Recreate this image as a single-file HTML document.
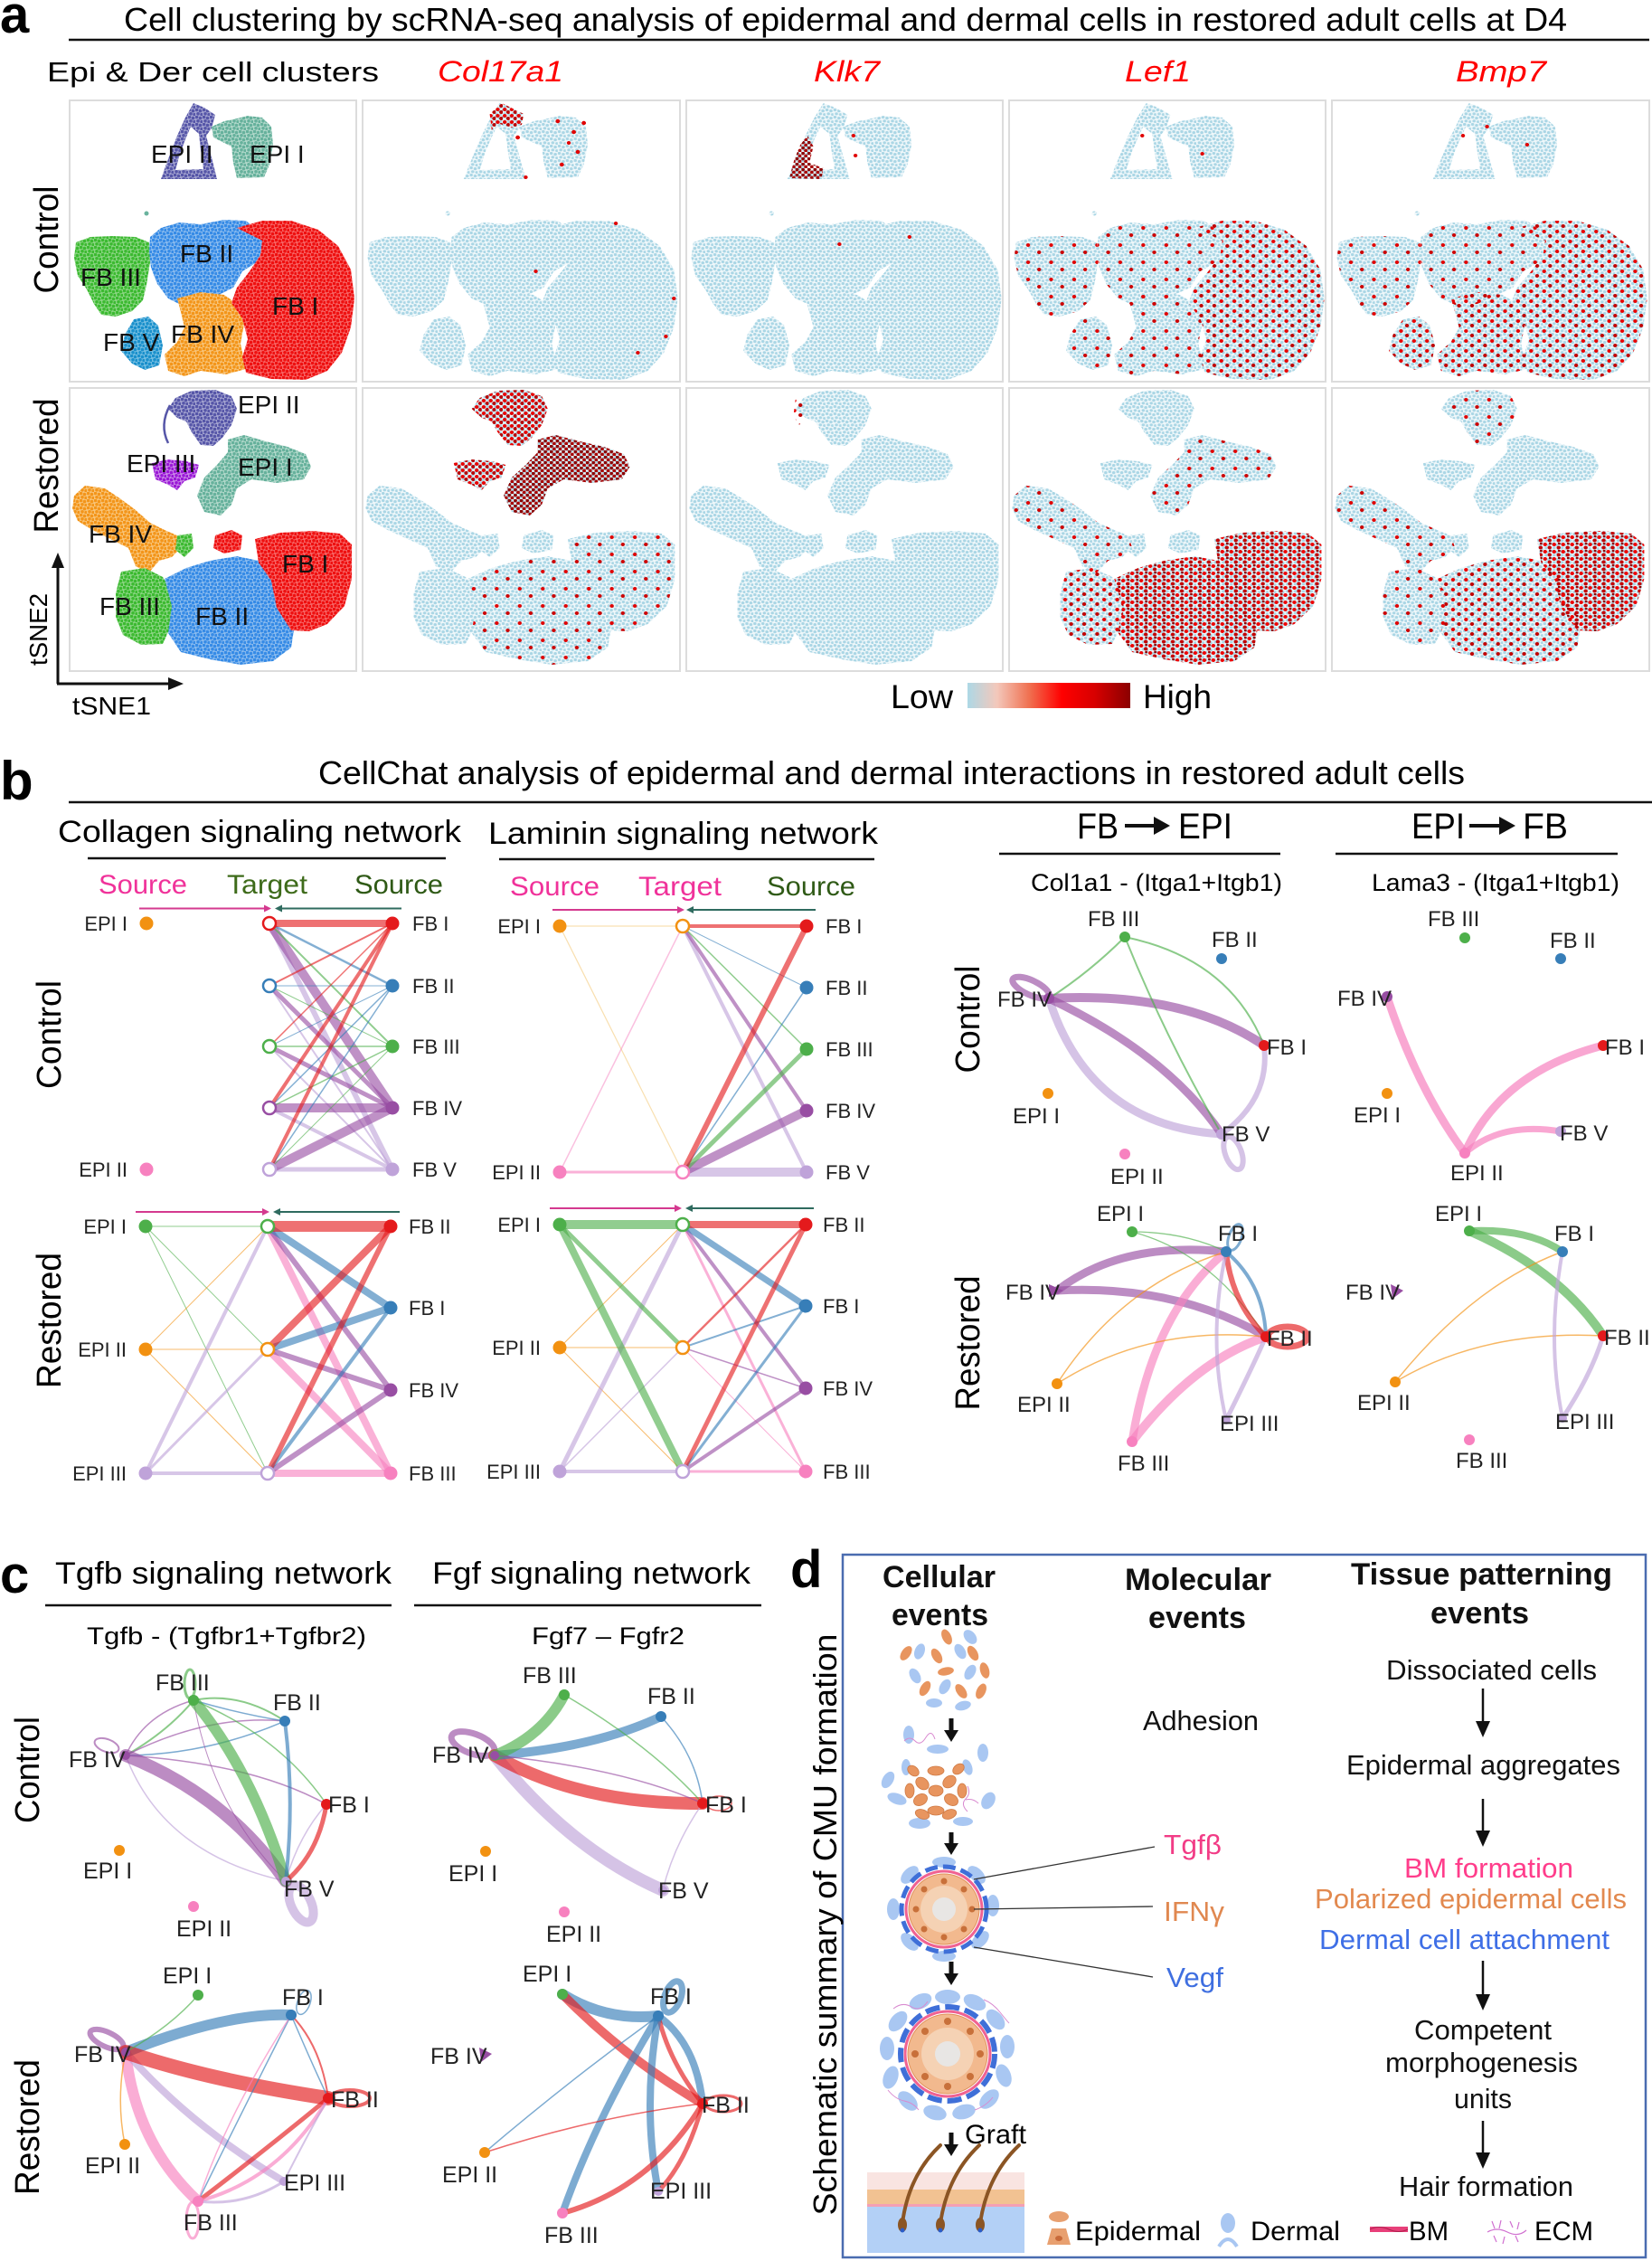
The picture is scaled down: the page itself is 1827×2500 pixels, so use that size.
<!DOCTYPE html>
<html><head><meta charset="utf-8"><title>Figure</title>
<style>
html,body{margin:0;padding:0;background:#fff;}
svg{display:block;font-family:"Liberation Sans",Arial,sans-serif;}
</style></head><body>
<svg xmlns="http://www.w3.org/2000/svg" width="1827" height="2500" viewBox="0 0 1827 2500">
<defs>
<pattern id="pL" width="8" height="8" patternUnits="userSpaceOnUse"><rect width="8" height="8" fill="#eef7fa"/><g fill="#aad6e5"><circle cx="1.5" cy="1.5" r="1.6"/><circle cx="5.5" cy="2.6" r="1.6"/><circle cx="3" cy="5.8" r="1.6"/><circle cx="7" cy="6.6" r="1.5"/></g></pattern>
<pattern id="pR" width="8" height="8" patternUnits="userSpaceOnUse"><rect width="8" height="8" fill="#f76464"/><g fill="#ee1010"><circle cx="1.5" cy="1.5" r="1.8"/><circle cx="5.5" cy="2.6" r="1.8"/><circle cx="3" cy="5.8" r="1.8"/><circle cx="7" cy="6.6" r="1.7"/></g></pattern>
<pattern id="pB" width="8" height="8" patternUnits="userSpaceOnUse"><rect width="8" height="8" fill="#8abbef"/><g fill="#368be6"><circle cx="1.5" cy="1.5" r="1.8"/><circle cx="5.5" cy="2.6" r="1.8"/><circle cx="3" cy="5.8" r="1.8"/><circle cx="7" cy="6.6" r="1.7"/></g></pattern>
<pattern id="pG" width="8" height="8" patternUnits="userSpaceOnUse"><rect width="8" height="8" fill="#8ad582"/><g fill="#3cba31"><circle cx="1.5" cy="1.5" r="1.8"/><circle cx="5.5" cy="2.6" r="1.8"/><circle cx="3" cy="5.8" r="1.8"/><circle cx="7" cy="6.6" r="1.7"/></g></pattern>
<pattern id="pO" width="8" height="8" patternUnits="userSpaceOnUse"><rect width="8" height="8" fill="#f8c478"/><g fill="#f3951a"><circle cx="1.5" cy="1.5" r="1.8"/><circle cx="5.5" cy="2.6" r="1.8"/><circle cx="3" cy="5.8" r="1.8"/><circle cx="7" cy="6.6" r="1.7"/></g></pattern>
<pattern id="pC" width="8" height="8" patternUnits="userSpaceOnUse"><rect width="8" height="8" fill="#74bee2"/><g fill="#1a90cc"><circle cx="1.5" cy="1.5" r="1.8"/><circle cx="5.5" cy="2.6" r="1.8"/><circle cx="3" cy="5.8" r="1.8"/><circle cx="7" cy="6.6" r="1.7"/></g></pattern>
<pattern id="pP" width="8" height="8" patternUnits="userSpaceOnUse"><rect width="8" height="8" fill="#a3a3d0"/><g fill="#5656a8"><circle cx="1.5" cy="1.5" r="1.8"/><circle cx="5.5" cy="2.6" r="1.8"/><circle cx="3" cy="5.8" r="1.8"/><circle cx="7" cy="6.6" r="1.7"/></g></pattern>
<pattern id="pT" width="8" height="8" patternUnits="userSpaceOnUse"><rect width="8" height="8" fill="#b0d8ca"/><g fill="#66b19c"><circle cx="1.5" cy="1.5" r="1.8"/><circle cx="5.5" cy="2.6" r="1.8"/><circle cx="3" cy="5.8" r="1.8"/><circle cx="7" cy="6.6" r="1.7"/></g></pattern>
<pattern id="pV" width="8" height="8" patternUnits="userSpaceOnUse"><rect width="8" height="8" fill="#c987e8"/><g fill="#9a18d6"><circle cx="1.5" cy="1.5" r="1.8"/><circle cx="5.5" cy="2.6" r="1.8"/><circle cx="3" cy="5.8" r="1.8"/><circle cx="7" cy="6.6" r="1.7"/></g></pattern>
<pattern id="pRs" width="23" height="19" patternUnits="userSpaceOnUse"><circle cx="4" cy="5" r="2" fill="#e00000"/><circle cx="15" cy="13" r="2" fill="#cc0000"/></pattern>
<pattern id="pRm" width="13" height="11" patternUnits="userSpaceOnUse"><circle cx="3" cy="3" r="2" fill="#e80000"/><circle cx="9" cy="8" r="2" fill="#c00000"/></pattern>
<pattern id="pRd" width="7" height="7" patternUnits="userSpaceOnUse"><circle cx="2" cy="2" r="2" fill="#e80000"/><circle cx="5.5" cy="5" r="2" fill="#b80000"/></pattern>
<pattern id="pRe" width="9" height="8" patternUnits="userSpaceOnUse"><circle cx="2" cy="2" r="2" fill="#ee0000"/><circle cx="6.5" cy="5.5" r="2" fill="#c40000"/><circle cx="7" cy="1" r="1.3" fill="#8b0000"/></pattern>
<pattern id="pDk" width="6" height="6" patternUnits="userSpaceOnUse"><circle cx="1.5" cy="1.5" r="1.9" fill="#8b0000"/><circle cx="4.5" cy="4.5" r="1.9" fill="#a80000"/></pattern>
<linearGradient id="cb" x1="0" x2="1" y1="0" y2="0"><stop offset="0" stop-color="#add8e6"/><stop offset="0.18" stop-color="#f3c8bb"/><stop offset="0.38" stop-color="#f07050"/><stop offset="0.58" stop-color="#ff0000"/><stop offset="0.78" stop-color="#d80000"/><stop offset="1" stop-color="#8b0000"/></linearGradient>

<path id="c_epi2" fill-rule="evenodd" d="M214,114 L226,119 L238,127 L234,142 L228,150 L232,166 L236,182 L240,198 L178,198 L183,184 L189,168 L196,150 L205,130 Z M211,140 L220,148 L222,166 L225,187 L194,188 L199,170 L205,154 Z"/>
<path id="c_epi1" d="M234,140 L248,134 L262,131 L274,128 L290,130 L300,140 L302,160 L298,182 L292,196 L262,197 L258,180 L256,162 L246,157 L236,152 Z"/>
<path id="c_fb3" d="M84,268 L100,262 L125,261 L150,262 L165,268 L166,290 L162,315 L158,332 L146,344 L128,350 L112,348 L104,336 L96,320 L86,305 L82,285 Z"/>
<path id="c_fb2" d="M166,262 L178,252 L198,246 L222,248 L248,243 L272,244 L286,256 L292,272 L284,290 L268,300 L258,318 L242,326 L222,336 L200,337 L186,330 L174,314 L167,296 L165,278 Z"/>
<path id="c_fb1" d="M262,252 L290,244 L322,244 L352,254 L374,272 L388,298 L392,330 L388,362 L378,390 L362,410 L338,420 L300,419 L272,412 L268,395 L274,375 L268,352 L256,335 L262,318 L276,300 L288,282 L290,266 Z"/>
<path id="c_fb4" d="M196,330 L222,323 L248,326 L262,336 L270,358 L266,380 L272,408 L250,414 L222,410 L204,416 L186,410 L182,392 L196,378 L204,362 L200,345 Z"/>
<path id="c_fb5" d="M148,353 L164,350 L175,360 L180,382 L176,404 L160,409 L146,402 L134,388 L138,370 Z"/>
<g id="ctrlAll"><use href="#c_fb3"/><use href="#c_fb2"/><use href="#c_fb1"/><use href="#c_fb4"/><use href="#c_fb5"/><use href="#c_epi2"/><use href="#c_epi1"/><circle cx="162" cy="236" r="2.5"/></g>

<path id="r_epi2" d="M194,440 L212,432 L238,431 L256,438 L262,452 L256,470 L246,484 L236,493 L222,492 L212,478 L206,466 L196,462 L186,452 Z"/>
<path id="r_epi1" d="M252,486 L270,481 L294,488 L318,494 L338,502 L344,516 L336,530 L306,534 L278,530 L262,540 L256,558 L244,570 L226,566 L218,548 L226,528 L240,514 L252,500 Z"/>
<path id="r_epi3" d="M168,512 L186,508 L206,510 L220,514 L216,528 L204,532 L196,542 L186,536 L172,530 Z"/>
<path id="r_fb4" d="M82,548 L94,537 L116,540 L134,552 L150,564 L166,578 L182,586 L196,592 L200,606 L190,616 L176,620 L164,634 L150,626 L142,606 L122,596 L102,586 L86,576 L80,562 Z"/>
<path id="r_fb3" d="M134,632 L160,628 L180,638 L192,658 L190,690 L180,712 L156,713 L136,702 L128,682 L128,656 Z"/>
<path id="r_fb2" d="M182,640 L206,628 L232,620 L262,615 L286,620 L302,636 L312,660 L326,690 L322,716 L302,731 L266,735 L232,729 L200,721 L186,700 L190,670 Z"/>
<path id="r_fb1" d="M282,596 L310,589 L346,587 L376,590 L389,602 L389,640 L381,670 L362,690 L342,698 L322,697 L306,672 L300,642 L286,622 Z"/>
<path id="r_fb1b" d="M238,592 L256,586 L268,592 L266,608 L248,612 L236,606 Z"/>
<path id="r_g" d="M196,592 L212,590 L214,606 L204,616 L194,608 Z"/>
<g id="restAll"><use href="#r_epi2"/><use href="#r_epi1"/><use href="#r_epi3"/><use href="#r_fb4"/><use href="#r_fb3"/><use href="#r_fb2"/><use href="#r_fb1"/><use href="#r_fb1b"/><use href="#r_g"/></g>
</defs>

<rect width="1827" height="2500" fill="#fff"/>

<!-- ================= PANEL A ================= -->
<text x="0" y="36" font-size="58" font-weight="bold">a</text>
<text x="137" y="34" font-size="36" textLength="1596" lengthAdjust="spacingAndGlyphs">Cell clustering by scRNA-seq analysis of epidermal and dermal cells in restored adult cells at D4</text>
<line x1="76" y1="44" x2="1824" y2="44" stroke="#111" stroke-width="2.5"/>

<text x="52" y="90" font-size="31" textLength="367" lengthAdjust="spacingAndGlyphs">Epi &amp; Der cell clusters</text>
<g fill="#ff0000" font-size="32" font-style="italic">
<text x="484" y="90" textLength="139" lengthAdjust="spacingAndGlyphs">Col17a1</text>
<text x="900" y="90" textLength="73" lengthAdjust="spacingAndGlyphs">Klk7</text>
<text x="1244" y="90" textLength="73" lengthAdjust="spacingAndGlyphs">Lef1</text>
<text x="1610" y="90" textLength="100" lengthAdjust="spacingAndGlyphs">Bmp7</text>
</g>

<g fill="none" stroke="#dcdcdc" stroke-width="2">
<rect x="77" y="111" width="317" height="311"/><rect x="401" y="111" width="351" height="311"/><rect x="759" y="111" width="350" height="311"/><rect x="1116" y="111" width="350" height="311"/><rect x="1473" y="111" width="351" height="311"/>
<rect x="77" y="429" width="317" height="313"/><rect x="401" y="429" width="351" height="313"/><rect x="759" y="429" width="350" height="313"/><rect x="1116" y="429" width="350" height="313"/><rect x="1473" y="429" width="351" height="313"/>
</g>

<!-- cluster panel control -->
<use href="#c_fb3" fill="url(#pG)"/>
<use href="#c_fb2" fill="url(#pB)"/>
<use href="#c_fb4" fill="url(#pO)"/>
<use href="#c_fb1" fill="url(#pR)"/>
<use href="#c_fb5" fill="url(#pC)"/>
<use href="#c_epi2" fill="url(#pP)"/>
<use href="#c_epi1" fill="url(#pT)"/>
<circle cx="162" cy="236" r="2.5" fill="#6ab39e"/>
<g font-size="28" fill="#111">
<text x="167" y="180">EPI II</text><text x="276" y="180">EPI I</text>
<text x="89" y="316">FB III</text><text x="199" y="290">FB II</text><text x="301" y="348">FB I</text>
<text x="114" y="388">FB V</text><text x="189" y="379">FB IV</text>
</g>
<!-- cluster panel restored -->
<use href="#r_fb4" fill="url(#pO)"/>
<use href="#r_fb3" fill="url(#pG)"/>
<use href="#r_g" fill="url(#pG)"/>
<use href="#r_fb2" fill="url(#pB)"/>
<use href="#r_fb1" fill="url(#pR)"/>
<use href="#r_fb1b" fill="url(#pR)"/>
<use href="#r_epi2" fill="url(#pP)"/>
<use href="#r_epi1" fill="url(#pT)"/>
<use href="#r_epi3" fill="url(#pV)"/>
<path d="M188,448 Q176,470 186,490" fill="none" stroke="#5656a8" stroke-width="2.5"/>
<g font-size="28" fill="#111">
<text x="263" y="457">EPI II</text><text x="263" y="526">EPI I</text><text x="140" y="522">EPI III</text>
<text x="98" y="600">FB IV</text><text x="110" y="680">FB III</text><text x="216" y="691">FB II</text><text x="312" y="633">FB I</text>
</g>

<!-- gene panels control -->
<g transform="translate(401,0) scale(1.107,1) translate(-77,0)">
<use href="#ctrlAll" fill="url(#pL)"/>
<path d="M204,126 L216,114 L238,126 L236,138 L226,141 L214,137 L206,144 Z" fill="url(#pRd)"/>
<g fill="#e00000"><circle cx="272" cy="134" r="2.2"/><circle cx="288" cy="146" r="2.2"/><circle cx="292" cy="168" r="2.2"/><circle cx="276" cy="182" r="2.2"/><circle cx="298" cy="136" r="2.2"/><circle cx="232" cy="152" r="2.2"/><circle cx="283" cy="158" r="2"/><circle cx="240" cy="196" r="2"/><circle cx="388" cy="330" r="2"/><circle cx="380" cy="372" r="2"/><circle cx="250" cy="300" r="2"/><circle cx="330" cy="247" r="2"/><circle cx="352" cy="390" r="2"/></g>
</g>
<g transform="translate(759,0) scale(1.107,1) translate(-77,0)">
<use href="#ctrlAll" fill="url(#pL)"/>
<path d="M180,197 L185,176 L191,160 L198,150 L204,162 L200,180 L214,186 L212,198 Z" fill="url(#pDk)"/>
<g fill="#e00000"><circle cx="244" cy="150" r="2"/><circle cx="246" cy="172" r="2"/><circle cx="300" cy="262" r="2"/><circle cx="230" cy="270" r="2"/></g>
</g>
<g transform="translate(1116,0) scale(1.107,1) translate(-77,0)">
<use href="#ctrlAll" fill="url(#pL)"/>
<use href="#c_fb2" fill="url(#pRs)"/><use href="#c_fb3" fill="url(#pRs)"/><use href="#c_fb5" fill="url(#pRs)"/>
<use href="#c_fb1" fill="url(#pRm)"/><use href="#c_fb4" fill="url(#pRs)"/>
<g fill="#e00000"><circle cx="270" cy="170" r="2"/><circle cx="210" cy="150" r="2"/></g>
</g>
<g transform="translate(1473,0) scale(1.107,1) translate(-77,0)">
<use href="#ctrlAll" fill="url(#pL)"/>
<use href="#c_fb2" fill="url(#pRs)"/><use href="#c_fb3" fill="url(#pRs)"/><use href="#c_fb5" fill="url(#pRm)"/>
<use href="#c_fb1" fill="url(#pRm)"/><use href="#c_fb4" fill="url(#pRm)"/>
<g fill="#e00000"><circle cx="272" cy="160" r="2"/><circle cx="208" cy="150" r="2"/><circle cx="232" cy="140" r="2"/></g>
</g>
<!-- gene panels restored -->
<g transform="translate(401,0) scale(1.107,1) translate(-77,0)">
<use href="#restAll" fill="url(#pL)"/>
<use href="#r_epi2" fill="url(#pRd)"/><use href="#r_epi3" fill="url(#pRd)"/><use href="#r_epi1" fill="url(#pDk)"/>
<use href="#r_fb2" fill="url(#pRs)"/><use href="#r_fb1" fill="url(#pRs)"/>
</g>
<g transform="translate(759,0) scale(1.107,1) translate(-77,0)">
<use href="#restAll" fill="url(#pL)"/>
<path d="M186,442 L194,438 L196,456 L190,470 L184,460 Z" fill="url(#pRm)"/>
</g>
<g transform="translate(1116,0) scale(1.107,1) translate(-77,0)">
<use href="#restAll" fill="url(#pL)"/>
<use href="#r_fb4" fill="url(#pRs)"/><use href="#r_fb3" fill="url(#pRm)"/><use href="#r_epi1" fill="url(#pRs)"/>
<use href="#r_fb2" fill="url(#pRe)"/><use href="#r_fb1" fill="url(#pRe)"/>
</g>
<g transform="translate(1473,0) scale(1.107,1) translate(-77,0)">
<use href="#restAll" fill="url(#pL)"/>
<use href="#r_fb4" fill="url(#pRs)"/><use href="#r_fb3" fill="url(#pRs)"/><use href="#r_epi2" fill="url(#pRs)"/>
<use href="#r_fb2" fill="url(#pRm)"/><use href="#r_fb1" fill="url(#pRe)"/>
</g>

<text transform="translate(64,265) rotate(-90)" text-anchor="middle" font-size="38" textLength="119" lengthAdjust="spacingAndGlyphs">Control</text>
<text transform="translate(64,515) rotate(-90)" text-anchor="middle" font-size="38" textLength="149" lengthAdjust="spacingAndGlyphs">Restored</text>

<!-- tSNE axes -->
<line x1="64" y1="626" x2="64" y2="756" stroke="#111" stroke-width="3"/>
<line x1="63" y1="756" x2="188" y2="756" stroke="#111" stroke-width="3"/>
<path d="M57,628 L64,611 L71,628 Z" fill="#111"/>
<path d="M186,749 L203,756 L186,763 Z" fill="#111"/>
<text transform="translate(52,696) rotate(-90)" text-anchor="middle" font-size="28" textLength="80" lengthAdjust="spacingAndGlyphs">tSNE2</text>
<text x="80" y="790" font-size="28" textLength="87" lengthAdjust="spacingAndGlyphs">tSNE1</text>

<!-- colorbar -->
<text x="985" y="783" font-size="37" textLength="69" lengthAdjust="spacingAndGlyphs">Low</text>
<rect x="1070" y="755" width="180" height="28" fill="url(#cb)"/>
<text x="1264" y="783" font-size="37" textLength="76" lengthAdjust="spacingAndGlyphs">High</text>

<!-- ================= PANEL B ================= -->
<text x="0" y="884" font-size="60" font-weight="bold">b</text>
<text x="352" y="867" font-size="36" textLength="1268" lengthAdjust="spacingAndGlyphs">CellChat analysis of epidermal and dermal interactions in restored adult cells</text>
<line x1="76" y1="887" x2="1827" y2="887" stroke="#111" stroke-width="2.5"/>

<text x="64" y="931" font-size="34" textLength="446" lengthAdjust="spacingAndGlyphs">Collagen signaling network</text>
<line x1="97" y1="949" x2="493" y2="949" stroke="#111" stroke-width="2.5"/>
<text x="540" y="933" font-size="34" textLength="431" lengthAdjust="spacingAndGlyphs">Laminin signaling network</text>
<line x1="552" y1="950" x2="967" y2="950" stroke="#111" stroke-width="2.5"/>

<text x="1191" y="927" font-size="40" textLength="46" lengthAdjust="spacingAndGlyphs">FB</text>
<line x1="1244" y1="913" x2="1280" y2="913" stroke="#111" stroke-width="4"/>
<path d="M1276,903 L1294,913 L1276,923 Z" fill="#111"/>
<text x="1303" y="927" font-size="40" textLength="60" lengthAdjust="spacingAndGlyphs">EPI</text>
<line x1="1105" y1="944" x2="1416" y2="944" stroke="#111" stroke-width="2.5"/>
<text x="1561" y="927" font-size="40" textLength="59" lengthAdjust="spacingAndGlyphs">EPI</text>
<line x1="1625" y1="913" x2="1662" y2="913" stroke="#111" stroke-width="4"/>
<path d="M1658,903 L1676,913 L1658,923 Z" fill="#111"/>
<text x="1684" y="927" font-size="40" textLength="50" lengthAdjust="spacingAndGlyphs">FB</text>
<line x1="1477" y1="944" x2="1789" y2="944" stroke="#111" stroke-width="2.5"/>

<text x="1140" y="985" font-size="27" textLength="278" lengthAdjust="spacingAndGlyphs">Col1a1  - (Itga1+Itgb1)</text>
<text x="1517" y="985" font-size="27" textLength="274" lengthAdjust="spacingAndGlyphs">Lama3  - (Itga1+Itgb1)</text>

<g font-size="30">
<text x="109" y="988" fill="#f0329a" textLength="98" lengthAdjust="spacingAndGlyphs">Source</text>
<text x="251" y="988" fill="#3e6b1a" textLength="89" lengthAdjust="spacingAndGlyphs">Target</text>
<text x="392" y="988" fill="#2f5a16" textLength="98" lengthAdjust="spacingAndGlyphs">Source</text>
<text x="564" y="990" fill="#f0329a" textLength="99" lengthAdjust="spacingAndGlyphs">Source</text>
<text x="706" y="990" fill="#f0329a" textLength="92" lengthAdjust="spacingAndGlyphs">Target</text>
<text x="848" y="990" fill="#2f5a16" textLength="98" lengthAdjust="spacingAndGlyphs">Source</text>
</g>

<text transform="translate(67,1144) rotate(-90)" text-anchor="middle" font-size="38" textLength="120" lengthAdjust="spacingAndGlyphs">Control</text>
<text transform="translate(67,1460) rotate(-90)" text-anchor="middle" font-size="38" textLength="150" lengthAdjust="spacingAndGlyphs">Restored</text>
<text transform="translate(1083,1127) rotate(-90)" text-anchor="middle" font-size="38" textLength="119" lengthAdjust="spacingAndGlyphs">Control</text>
<text transform="translate(1083,1485) rotate(-90)" text-anchor="middle" font-size="38" textLength="149" lengthAdjust="spacingAndGlyphs">Restored</text>

<!-- hive arrows -->
<g stroke-width="2">
<line x1="154" y1="1004.5" x2="292" y2="1004.5" stroke="#d4398f"/><line x1="312" y1="1004.5" x2="444" y2="1004.5" stroke="#2f6b5f"/>
<line x1="611" y1="1006" x2="749" y2="1006" stroke="#d4398f"/><line x1="767" y1="1006" x2="902" y2="1006" stroke="#2f6b5f"/>
<line x1="150" y1="1340" x2="290" y2="1340" stroke="#d4398f"/><line x1="310" y1="1340" x2="442" y2="1340" stroke="#2f6b5f"/>
<line x1="608" y1="1336" x2="746" y2="1336" stroke="#d4398f"/><line x1="766" y1="1336" x2="900" y2="1336" stroke="#2f6b5f"/>
</g>
<g fill="#d4398f"><path d="M292,1000.5 L300,1004.5 L292,1008.5Z"/><path d="M749,1002 L757,1006 L749,1010Z"/><path d="M290,1336 L298,1340 L290,1344Z"/><path d="M746,1332 L754,1336 L746,1340Z"/></g>
<g fill="#2f6b5f"><path d="M312,1000.5 L304,1004.5 L312,1008.5Z"/><path d="M767,1002 L759,1006 L767,1010Z"/><path d="M310,1336 L302,1340 L310,1344Z"/><path d="M766,1332 L758,1336 L766,1340Z"/></g>

<!-- Collagen control hive -->
<g stroke-opacity="0.62" stroke-linecap="butt">
<g stroke="#bfa3d9"><line x1="434" y1="1293" x2="298" y2="1021" stroke-width="6"/><line x1="434" y1="1293" x2="298" y2="1090" stroke-width="2"/><line x1="434" y1="1293" x2="298" y2="1157" stroke-width="2"/><line x1="434" y1="1293" x2="298" y2="1225" stroke-width="4"/><line x1="434" y1="1293" x2="298" y2="1293" stroke-width="5"/></g>
<g stroke="#984ea3"><line x1="434" y1="1225" x2="298" y2="1021" stroke-width="10"/><line x1="434" y1="1225" x2="298" y2="1090" stroke-width="5"/><line x1="434" y1="1225" x2="298" y2="1157" stroke-width="5"/><line x1="434" y1="1225" x2="298" y2="1225" stroke-width="10"/><line x1="434" y1="1225" x2="298" y2="1293" stroke-width="10"/></g>
<g stroke="#4daf4a"><line x1="434" y1="1157" x2="298" y2="1021" stroke-width="2"/><line x1="434" y1="1157" x2="298" y2="1090" stroke-width="1"/><line x1="434" y1="1157" x2="298" y2="1157" stroke-width="1.5"/><line x1="434" y1="1157" x2="298" y2="1225" stroke-width="1.5"/><line x1="434" y1="1157" x2="298" y2="1293" stroke-width="1"/></g>
<g stroke="#377eb8"><line x1="434" y1="1090" x2="298" y2="1021" stroke-width="2.5"/><line x1="434" y1="1090" x2="298" y2="1090" stroke-width="1"/><line x1="434" y1="1090" x2="298" y2="1157" stroke-width="1"/><line x1="434" y1="1090" x2="298" y2="1225" stroke-width="1.5"/><line x1="434" y1="1090" x2="298" y2="1293" stroke-width="1.5"/></g>
<g stroke="#e41a1c"><line x1="434" y1="1021" x2="298" y2="1021" stroke-width="8"/><line x1="434" y1="1021" x2="298" y2="1090" stroke-width="2"/><line x1="434" y1="1021" x2="298" y2="1157" stroke-width="1.5"/><line x1="434" y1="1021" x2="298" y2="1225" stroke-width="4"/><line x1="434" y1="1021" x2="298" y2="1293" stroke-width="4"/></g>
</g>
<circle cx="162" cy="1021" r="7.5" fill="#f29111"/><circle cx="162" cy="1293" r="7.5" fill="#f781bf"/>
<g fill="#fff" stroke-width="2.5"><circle cx="298" cy="1021" r="7" stroke="#e41a1c"/><circle cx="298" cy="1090" r="7" stroke="#377eb8"/><circle cx="298" cy="1157" r="7" stroke="#4daf4a"/><circle cx="298" cy="1225" r="7" stroke="#984ea3"/><circle cx="298" cy="1293" r="7" stroke="#bfa3d9"/></g>
<circle cx="434" cy="1021" r="7.5" fill="#e41a1c"/><circle cx="434" cy="1090" r="7.5" fill="#377eb8"/><circle cx="434" cy="1157" r="7.5" fill="#4daf4a"/><circle cx="434" cy="1225" r="7.5" fill="#984ea3"/><circle cx="434" cy="1293" r="7.5" fill="#bfa3d9"/>
<g font-size="22" fill="#222">
<text x="141" y="1029" text-anchor="end">EPI I</text><text x="141" y="1301" text-anchor="end">EPI II</text>
<text x="456" y="1029">FB I</text><text x="456" y="1098">FB II</text><text x="456" y="1165">FB III</text><text x="456" y="1233">FB IV</text><text x="456" y="1301">FB V</text>
</g>

<!-- Laminin control hive -->
<g stroke-opacity="0.62">
<line x1="619" y1="1024" x2="755" y2="1024" stroke="#f2c060" stroke-width="1.5" stroke-opacity="0.4"/>
<line x1="619" y1="1024" x2="755" y2="1296" stroke="#f2c060" stroke-width="1.2" stroke-opacity="0.5"/>
<line x1="619" y1="1296" x2="755" y2="1024" stroke="#f781bf" stroke-width="1.5" stroke-opacity="0.5"/>
<line x1="619" y1="1296" x2="755" y2="1296" stroke="#f781bf" stroke-width="3"/>
<g stroke="#bfa3d9"><line x1="892" y1="1296" x2="755" y2="1024" stroke-width="4"/><line x1="892" y1="1296" x2="755" y2="1296" stroke-width="10"/></g>
<g stroke="#984ea3"><line x1="892" y1="1228" x2="755" y2="1024" stroke-width="4"/><line x1="892" y1="1228" x2="755" y2="1296" stroke-width="10"/></g>
<g stroke="#4daf4a"><line x1="892" y1="1160" x2="755" y2="1024" stroke-width="1.5"/><line x1="892" y1="1160" x2="755" y2="1296" stroke-width="5"/></g>
<g stroke="#377eb8"><line x1="892" y1="1092" x2="755" y2="1024" stroke-width="1"/><line x1="892" y1="1092" x2="755" y2="1296" stroke-width="1.5"/></g>
<g stroke="#e41a1c"><line x1="892" y1="1024" x2="755" y2="1024" stroke-width="4"/><line x1="892" y1="1024" x2="755" y2="1296" stroke-width="6"/></g>
</g>
<circle cx="619" cy="1024" r="7.5" fill="#f29111"/><circle cx="619" cy="1296" r="7.5" fill="#f781bf"/>
<circle cx="755" cy="1024" r="7" fill="#fff" stroke="#f29111" stroke-width="2.5"/><circle cx="755" cy="1296" r="7" fill="#fff" stroke="#f781bf" stroke-width="2.5"/>
<circle cx="892" cy="1024" r="7.5" fill="#e41a1c"/><circle cx="892" cy="1092" r="7.5" fill="#377eb8"/><circle cx="892" cy="1160" r="7.5" fill="#4daf4a"/><circle cx="892" cy="1228" r="7.5" fill="#984ea3"/><circle cx="892" cy="1296" r="7.5" fill="#bfa3d9"/>
<g font-size="22" fill="#222">
<text x="598" y="1032" text-anchor="end">EPI I</text><text x="598" y="1304" text-anchor="end">EPI II</text>
<text x="913" y="1032">FB I</text><text x="913" y="1100">FB II</text><text x="913" y="1168">FB III</text><text x="913" y="1236">FB IV</text><text x="913" y="1304">FB V</text>
</g>

<!-- Collagen restored hive -->
<g stroke-opacity="0.62">
<g stroke="#4daf4a"><line x1="161" y1="1356" x2="296" y2="1356" stroke-width="1"/><line x1="161" y1="1356" x2="296" y2="1492" stroke-width="1"/><line x1="161" y1="1356" x2="296" y2="1629" stroke-width="1"/></g>
<g stroke="#f29111"><line x1="161" y1="1492" x2="296" y2="1356" stroke-width="1"/><line x1="161" y1="1492" x2="296" y2="1492" stroke-width="1"/><line x1="161" y1="1492" x2="296" y2="1629" stroke-width="1"/></g>
<g stroke="#bfa3d9"><line x1="161" y1="1629" x2="296" y2="1356" stroke-width="4"/><line x1="161" y1="1629" x2="296" y2="1492" stroke-width="3"/><line x1="161" y1="1629" x2="296" y2="1629" stroke-width="4"/></g>
<g stroke="#f781bf"><line x1="432" y1="1629" x2="296" y2="1356" stroke-width="8"/><line x1="432" y1="1629" x2="296" y2="1492" stroke-width="8"/><line x1="432" y1="1629" x2="296" y2="1629" stroke-width="8"/></g>
<g stroke="#984ea3"><line x1="432" y1="1537" x2="296" y2="1356" stroke-width="6"/><line x1="432" y1="1537" x2="296" y2="1492" stroke-width="6"/><line x1="432" y1="1537" x2="296" y2="1629" stroke-width="6"/></g>
<g stroke="#377eb8"><line x1="432" y1="1446" x2="296" y2="1356" stroke-width="8"/><line x1="432" y1="1446" x2="296" y2="1492" stroke-width="8"/><line x1="432" y1="1446" x2="296" y2="1629" stroke-width="4"/></g>
<g stroke="#e41a1c"><line x1="432" y1="1356" x2="296" y2="1356" stroke-width="12"/><line x1="432" y1="1356" x2="296" y2="1492" stroke-width="8"/><line x1="432" y1="1356" x2="296" y2="1629" stroke-width="6"/></g>
</g>
<circle cx="161" cy="1356" r="7.5" fill="#4daf4a"/><circle cx="161" cy="1492" r="7.5" fill="#f29111"/><circle cx="161" cy="1629" r="7.5" fill="#bfa3d9"/>
<circle cx="296" cy="1356" r="7" fill="#fff" stroke="#4daf4a" stroke-width="2.5"/><circle cx="296" cy="1492" r="7" fill="#fff" stroke="#f29111" stroke-width="2.5"/><circle cx="296" cy="1629" r="7" fill="#fff" stroke="#bfa3d9" stroke-width="2.5"/>
<circle cx="432" cy="1356" r="7.5" fill="#e41a1c"/><circle cx="432" cy="1446" r="7.5" fill="#377eb8"/><circle cx="432" cy="1537" r="7.5" fill="#984ea3"/><circle cx="432" cy="1629" r="7.5" fill="#f781bf"/>
<g font-size="22" fill="#222">
<text x="140" y="1364" text-anchor="end">EPI I</text><text x="140" y="1500" text-anchor="end">EPI II</text><text x="140" y="1637" text-anchor="end">EPI III</text>
<text x="452" y="1364">FB II</text><text x="452" y="1454">FB I</text><text x="452" y="1545">FB IV</text><text x="452" y="1637">FB III</text>
</g>

<!-- Laminin restored hive -->
<g stroke-opacity="0.62">
<g stroke="#f29111"><line x1="619" y1="1490" x2="755" y2="1354" stroke-width="1"/><line x1="619" y1="1490" x2="755" y2="1490" stroke-width="1"/><line x1="619" y1="1490" x2="755" y2="1627" stroke-width="1"/></g>
<g stroke="#bfa3d9"><line x1="619" y1="1627" x2="755" y2="1354" stroke-width="5"/><line x1="619" y1="1627" x2="755" y2="1490" stroke-width="1.5"/><line x1="619" y1="1627" x2="755" y2="1627" stroke-width="4"/></g>
<g stroke="#4daf4a"><line x1="619" y1="1354" x2="755" y2="1354" stroke-width="10"/><line x1="619" y1="1354" x2="755" y2="1490" stroke-width="5"/><line x1="619" y1="1354" x2="755" y2="1627" stroke-width="8"/></g>
<g stroke="#f781bf"><line x1="891" y1="1627" x2="755" y2="1354" stroke-width="3"/><line x1="891" y1="1627" x2="755" y2="1490" stroke-width="1"/><line x1="891" y1="1627" x2="755" y2="1627" stroke-width="3"/></g>
<g stroke="#984ea3"><line x1="891" y1="1535" x2="755" y2="1354" stroke-width="4"/><line x1="891" y1="1535" x2="755" y2="1490" stroke-width="1.5"/><line x1="891" y1="1535" x2="755" y2="1627" stroke-width="4"/></g>
<g stroke="#377eb8"><line x1="891" y1="1444" x2="755" y2="1354" stroke-width="7"/><line x1="891" y1="1444" x2="755" y2="1490" stroke-width="2"/><line x1="891" y1="1444" x2="755" y2="1627" stroke-width="3"/></g>
<g stroke="#e41a1c"><line x1="891" y1="1354" x2="755" y2="1354" stroke-width="8"/><line x1="891" y1="1354" x2="755" y2="1490" stroke-width="2.5"/><line x1="891" y1="1354" x2="755" y2="1627" stroke-width="5"/></g>
</g>
<circle cx="619" cy="1354" r="7.5" fill="#4daf4a"/><circle cx="619" cy="1490" r="7.5" fill="#f29111"/><circle cx="619" cy="1627" r="7.5" fill="#bfa3d9"/>
<circle cx="755" cy="1354" r="7" fill="#fff" stroke="#4daf4a" stroke-width="2.5"/><circle cx="755" cy="1490" r="7" fill="#fff" stroke="#f29111" stroke-width="2.5"/><circle cx="755" cy="1627" r="7" fill="#fff" stroke="#bfa3d9" stroke-width="2.5"/>
<circle cx="891" cy="1354" r="7.5" fill="#e41a1c"/><circle cx="891" cy="1444" r="7.5" fill="#377eb8"/><circle cx="891" cy="1535" r="7.5" fill="#984ea3"/><circle cx="891" cy="1627" r="7.5" fill="#f781bf"/>
<g font-size="22" fill="#222">
<text x="598" y="1362" text-anchor="end">EPI I</text><text x="598" y="1498" text-anchor="end">EPI II</text><text x="598" y="1635" text-anchor="end">EPI III</text>
<text x="910" y="1362">FB II</text><text x="910" y="1452">FB I</text><text x="910" y="1543">FB IV</text><text x="910" y="1635">FB III</text>
</g>

<!-- Col1a1 control network -->
<g fill="none" stroke-opacity="0.65" stroke-linecap="round">
<path d="M1160,1104 Q1205,1245 1351,1254" stroke="#bfa3d9" stroke-width="9"/>
<path d="M1351,1254 Q1405,1215 1398,1156" stroke="#bfa3d9" stroke-width="6"/>
<ellipse cx="1364" cy="1275" rx="9" ry="19" transform="rotate(-20 1364 1275)" stroke="#bfa3d9" stroke-width="6"/>
<ellipse cx="1140" cy="1092" rx="22" ry="8" transform="rotate(25 1140 1092)" stroke="#984ea3" stroke-width="7"/>
<path d="M1160,1104 Q1310,1096 1398,1156" stroke="#984ea3" stroke-width="10"/>
<path d="M1160,1104 Q1290,1165 1351,1254" stroke="#984ea3" stroke-width="9"/>
<g stroke="#4daf4a" stroke-width="2"><path d="M1244,1036 Q1205,1075 1160,1104"/><path d="M1244,1036 Q1360,1060 1398,1156"/><path d="M1244,1036 Q1290,1150 1351,1254"/></g>
</g>
<g><circle cx="1244" cy="1036" r="6" fill="#4daf4a"/><circle cx="1351" cy="1060" r="6" fill="#377eb8"/><circle cx="1160" cy="1104" r="6" fill="#984ea3"/><circle cx="1398" cy="1156" r="6" fill="#e41a1c"/><circle cx="1159" cy="1209" r="6" fill="#f29111"/><circle cx="1351" cy="1254" r="6" fill="#bfa3d9"/><circle cx="1244" cy="1276" r="6" fill="#f781bf"/></g>
<g font-size="24" fill="#222">
<text x="1203" y="1024">FB III</text><text x="1340" y="1047">FB II</text><text x="1103" y="1113">FB IV</text><text x="1401" y="1166">FB I</text><text x="1120" y="1242">EPI I</text><text x="1351" y="1262">FB V</text><text x="1228" y="1309">EPI II</text>
</g>

<!-- Lama3 control network -->
<g fill="none" stroke="#f781bf" stroke-opacity="0.7" stroke-linecap="round">
<path d="M1620,1275 Q1568,1205 1534,1102" stroke-width="9"/>
<path d="M1620,1275 Q1660,1185 1773,1156" stroke-width="9"/>
<path d="M1620,1275 Q1660,1240 1726,1251" stroke-width="7"/>
</g>
<g><circle cx="1620" cy="1037" r="6" fill="#4daf4a"/><circle cx="1726" cy="1060" r="6" fill="#377eb8"/><circle cx="1534" cy="1102" r="6" fill="#984ea3"/><circle cx="1773" cy="1156" r="6" fill="#e41a1c"/><circle cx="1534" cy="1209" r="6" fill="#f29111"/><circle cx="1726" cy="1251" r="6" fill="#bfa3d9"/><circle cx="1620" cy="1275" r="6" fill="#f781bf"/></g>
<g font-size="24" fill="#222">
<text x="1579" y="1024">FB III</text><text x="1714" y="1048">FB II</text><text x="1479" y="1112">FB IV</text><text x="1775" y="1166">FB I</text><text x="1497" y="1241">EPI I</text><text x="1725" y="1261">FB V</text><text x="1604" y="1305">EPI II</text>
</g>

<!-- Col1a1 restored network -->
<g fill="none" stroke-opacity="0.65" stroke-linecap="round">
<path d="M1169,1427 Q1240,1372 1356,1384" stroke="#984ea3" stroke-width="9"/>
<path d="M1169,1427 Q1300,1420 1400,1478" stroke="#984ea3" stroke-width="9"/>
<path d="M1252,1594 Q1275,1450 1356,1384" stroke="#f781bf" stroke-width="9"/>
<path d="M1252,1594 Q1320,1505 1400,1478" stroke="#f781bf" stroke-width="10"/>
<path d="M1169,1530 Q1240,1420 1356,1384" stroke="#f29111" stroke-width="1.5"/>
<path d="M1169,1530 Q1270,1465 1400,1478" stroke="#f29111" stroke-width="1.5"/>
<path d="M1252,1362 Q1310,1362 1356,1384" stroke="#4daf4a" stroke-width="1.3"/>
<path d="M1252,1362 Q1340,1385 1400,1478" stroke="#4daf4a" stroke-width="1.3"/>
<path d="M1356,1384 Q1362,1440 1400,1478" stroke="#e41a1c" stroke-width="6"/>
<path d="M1356,1384 Q1398,1420 1400,1478" stroke="#377eb8" stroke-width="4"/>
<path d="M1356,1570 Q1335,1480 1356,1384" stroke="#bfa3d9" stroke-width="4"/>
<path d="M1356,1570 Q1385,1512 1400,1478" stroke="#bfa3d9" stroke-width="5"/>
<ellipse cx="1366" cy="1368" rx="7" ry="15" transform="rotate(20 1366 1368)" stroke="#377eb8" stroke-width="3"/>
<ellipse cx="1424" cy="1478" rx="22" ry="11" stroke="#e41a1c" stroke-width="7"/>
</g>
<g><circle cx="1252" cy="1362" r="6" fill="#4daf4a"/><circle cx="1356" cy="1384" r="6" fill="#377eb8"/><path d="M1160,1420 L1176,1427 L1160,1434 Z" fill="#984ea3"/><circle cx="1400" cy="1478" r="6" fill="#e41a1c"/><circle cx="1169" cy="1530" r="6" fill="#f29111"/><circle cx="1356" cy="1570" r="5" fill="#bfa3d9"/><circle cx="1252" cy="1594" r="6" fill="#f781bf"/></g>
<g font-size="24" fill="#222">
<text x="1213" y="1350">EPI I</text><text x="1347" y="1372">FB I</text><text x="1112" y="1437">FB IV</text><text x="1401" y="1488">FB II</text><text x="1125" y="1561">EPI II</text><text x="1349" y="1582">EPI III</text><text x="1236" y="1626">FB III</text>
</g>

<!-- Lama3 restored network -->
<g fill="none" stroke-opacity="0.65" stroke-linecap="round">
<path d="M1625,1361 Q1690,1358 1728,1384" stroke="#4daf4a" stroke-width="8"/>
<path d="M1625,1361 Q1725,1405 1773,1477" stroke="#4daf4a" stroke-width="10"/>
<path d="M1543,1528 Q1630,1420 1728,1384" stroke="#f29111" stroke-width="1.5"/>
<path d="M1543,1528 Q1640,1470 1773,1477" stroke="#f29111" stroke-width="1.5"/>
<path d="M1728,1568 Q1710,1480 1728,1384" stroke="#bfa3d9" stroke-width="4"/>
<path d="M1728,1568 Q1760,1520 1773,1477" stroke="#bfa3d9" stroke-width="5"/>
</g>
<g><circle cx="1625" cy="1361" r="6" fill="#4daf4a"/><circle cx="1728" cy="1384" r="6" fill="#377eb8"/><path d="M1538,1420 L1552,1427 L1540,1436 Z" fill="#984ea3"/><circle cx="1773" cy="1477" r="6" fill="#e41a1c"/><circle cx="1543" cy="1528" r="6" fill="#f29111"/><circle cx="1728" cy="1568" r="5" fill="#bfa3d9"/><circle cx="1625" cy="1592" r="6" fill="#f781bf"/></g>
<g font-size="24" fill="#222">
<text x="1587" y="1350">EPI I</text><text x="1719" y="1372">FB I</text><text x="1488" y="1437">FB IV</text><text x="1774" y="1487">FB II</text><text x="1501" y="1559">EPI II</text><text x="1720" y="1580">EPI III</text><text x="1610" y="1623">FB III</text>
</g>

<!-- ================= PANEL C ================= -->
<text x="0" y="1761" font-size="58" font-weight="bold">c</text>
<text x="61" y="1751" font-size="34" textLength="372" lengthAdjust="spacingAndGlyphs">Tgfb signaling network</text>
<line x1="50" y1="1775" x2="433" y2="1775" stroke="#111" stroke-width="2.5"/>
<text x="478" y="1751" font-size="34" textLength="352" lengthAdjust="spacingAndGlyphs">Fgf signaling network</text>
<line x1="458" y1="1775" x2="842" y2="1775" stroke="#111" stroke-width="2.5"/>
<text x="96" y="1818" font-size="27" textLength="309" lengthAdjust="spacingAndGlyphs">Tgfb - (Tgfbr1+Tgfbr2)</text>
<text x="588" y="1818" font-size="27" textLength="169" lengthAdjust="spacingAndGlyphs">Fgf7 – Fgfr2</text>
<text transform="translate(43,1957) rotate(-90)" text-anchor="middle" font-size="38" textLength="118" lengthAdjust="spacingAndGlyphs">Control</text>
<text transform="translate(43,2352) rotate(-90)" text-anchor="middle" font-size="38" textLength="150" lengthAdjust="spacingAndGlyphs">Restored</text>

<!-- Tgfb control -->
<g fill="none" stroke-opacity="0.65" stroke-linecap="round">
<path d="M139,1941 Q160,1895 214,1880" stroke="#984ea3" stroke-width="1.5"/>
<path d="M139,1941 Q185,1915 214,1880" stroke="#4daf4a" stroke-width="2"/>
<path d="M139,1941 Q230,1895 315,1903" stroke="#984ea3" stroke-width="1.5"/>
<path d="M139,1941 Q230,1940 315,1903" stroke="#377eb8" stroke-width="1.5"/>
<path d="M139,1941 Q280,1950 361,1995" stroke="#984ea3" stroke-width="1.5"/>
<path d="M139,1941 Q180,2050 316,2080" stroke="#bfa3d9" stroke-width="1.5"/>
<path d="M214,1880 Q265,1870 315,1903" stroke="#4daf4a" stroke-width="2"/>
<path d="M214,1880 Q310,1920 361,1995" stroke="#4daf4a" stroke-width="1.5"/>
<path d="M214,1880 Q265,1895 315,1903" stroke="#377eb8" stroke-width="1.5"/>
<path d="M214,1880 Q235,2000 316,2080" stroke="#984ea3" stroke-width="1"/>
<path d="M361,1995 Q330,2030 316,2080" stroke="#bfa3d9" stroke-width="1.5"/>
<ellipse cx="333" cy="2105" rx="11" ry="22" transform="rotate(-25 333 2105)" stroke="#bfa3d9" stroke-width="10"/>
<ellipse cx="118" cy="1930" rx="14" ry="7" transform="rotate(20 118 1930)" stroke="#984ea3" stroke-width="2"/>
<ellipse cx="210" cy="1862" rx="6" ry="16" stroke="#4daf4a" stroke-width="3"/>
<path d="M139,1941 Q250,1985 316,2080" stroke="#984ea3" stroke-width="14"/>
<path d="M214,1880 Q280,1960 316,2080" stroke="#4daf4a" stroke-width="12"/>
<path d="M315,1903 Q326,1990 316,2080" stroke="#377eb8" stroke-width="4"/>
<path d="M316,2080 Q352,2050 361,1995" stroke="#e41a1c" stroke-width="5"/>
</g>
<g><circle cx="214" cy="1880" r="6" fill="#4daf4a"/><circle cx="315" cy="1903" r="6" fill="#377eb8"/><circle cx="139" cy="1941" r="5" fill="#984ea3"/><circle cx="361" cy="1995" r="6" fill="#e41a1c"/><circle cx="132" cy="2046" r="6" fill="#f29111"/><circle cx="316" cy="2080" r="5" fill="#bfa3d9"/><circle cx="214" cy="2108" r="6" fill="#f781bf"/></g>
<g font-size="25" fill="#222">
<text x="172" y="1869">FB III</text><text x="302" y="1891">FB II</text><text x="76" y="1954">FB IV</text><text x="363" y="2004">FB I</text><text x="92" y="2077">EPI I</text><text x="314" y="2097">FB V</text><text x="195" y="2141">EPI II</text>
</g>

<!-- Fgf control -->
<g fill="none" stroke-opacity="0.65" stroke-linecap="round">
<ellipse cx="523" cy="1928" rx="25" ry="11" transform="rotate(20 523 1928)" stroke="#984ea3" stroke-width="7"/>
<path d="M733,2090 Q630,2045 547,1941" stroke="#bfa3d9" stroke-width="14"/>
<path d="M547,1941 Q640,1995 777,1994" stroke="#e41a1c" stroke-width="14"/>
<path d="M731,1898 Q660,1932 547,1941" stroke="#377eb8" stroke-width="10"/>
<path d="M624,1874 Q600,1920 547,1941" stroke="#4daf4a" stroke-width="12"/>
<path d="M624,1874 Q720,1930 777,1994" stroke="#4daf4a" stroke-width="1.5"/>
<path d="M731,1898 Q770,1940 777,1994" stroke="#377eb8" stroke-width="1.5"/>
<path d="M547,1941 Q690,1955 777,1994" stroke="#984ea3" stroke-width="1.5"/>
<path d="M733,2090 Q745,2040 777,1994" stroke="#bfa3d9" stroke-width="1.5"/>
<ellipse cx="795" cy="1994" rx="14" ry="8" stroke="#e41a1c" stroke-width="1.5"/>
</g>
<g><circle cx="624" cy="1874" r="6" fill="#4daf4a"/><circle cx="731" cy="1898" r="6" fill="#377eb8"/><circle cx="547" cy="1941" r="5" fill="#984ea3"/><circle cx="777" cy="1994" r="6" fill="#e41a1c"/><circle cx="537" cy="2047" r="6" fill="#f29111"/><circle cx="733" cy="2090" r="5" fill="#bfa3d9"/><circle cx="624" cy="2114" r="6" fill="#f781bf"/></g>
<g font-size="25" fill="#222">
<text x="578" y="1861">FB III</text><text x="716" y="1884">FB II</text><text x="478" y="1949">FB IV</text><text x="780" y="2004">FB I</text><text x="496" y="2080">EPI I</text><text x="728" y="2099">FB V</text><text x="604" y="2147">EPI II</text>
</g>

<!-- Tgfb restored -->
<g fill="none" stroke-opacity="0.65" stroke-linecap="round">
<ellipse cx="118" cy="2255" rx="20" ry="8" transform="rotate(25 118 2255)" stroke="#984ea3" stroke-width="6"/>
<ellipse cx="213" cy="2455" rx="7" ry="20" stroke="#f781bf" stroke-width="3"/>
<ellipse cx="387" cy="2320" rx="22" ry="9" stroke="#e41a1c" stroke-width="4"/>
<ellipse cx="336" cy="2214" rx="7" ry="14" transform="rotate(20 336 2214)" stroke="#377eb8" stroke-width="1.5"/>
<path d="M139,2269 Q150,2370 219,2434" stroke="#f781bf" stroke-width="12"/>
<path d="M139,2269 Q210,2350 314,2412" stroke="#bfa3d9" stroke-width="8"/>
<path d="M322,2228 Q250,2225 139,2269" stroke="#377eb8" stroke-width="12"/>
<path d="M363,2320 Q230,2300 139,2269" stroke="#e41a1c" stroke-width="16"/>
<path d="M219,2206 Q190,2240 139,2269" stroke="#4daf4a" stroke-width="1.5"/>
<path d="M138,2371 Q128,2320 139,2269" stroke="#f29111" stroke-width="1.5"/>
<path d="M363,2320 Q290,2380 219,2434" stroke="#e41a1c" stroke-width="5"/>
<path d="M219,2434 Q310,2410 363,2320" stroke="#f781bf" stroke-width="4"/>
<path d="M322,2228 Q355,2262 363,2320" stroke="#e41a1c" stroke-width="2"/>
<path d="M322,2228 Q345,2282 363,2320" stroke="#377eb8" stroke-width="1.5"/>
<path d="M322,2228 Q270,2330 219,2434" stroke="#377eb8" stroke-width="1.5"/>
<path d="M322,2228 Q250,2340 219,2434" stroke="#f781bf" stroke-width="1.5"/>
<path d="M314,2412 Q270,2440 219,2434" stroke="#bfa3d9" stroke-width="3"/>
<path d="M363,2320 Q335,2370 314,2412" stroke="#bfa3d9" stroke-width="2"/>
</g>
<g><circle cx="219" cy="2206" r="6" fill="#4daf4a"/><circle cx="322" cy="2228" r="6" fill="#377eb8"/><circle cx="139" cy="2269" r="5" fill="#984ea3"/><circle cx="363" cy="2320" r="6" fill="#e41a1c"/><circle cx="138" cy="2371" r="6" fill="#f29111"/><circle cx="314" cy="2412" r="5" fill="#bfa3d9"/><circle cx="219" cy="2434" r="6" fill="#f781bf"/></g>
<g font-size="25" fill="#222">
<text x="180" y="2193">EPI I</text><text x="312" y="2217">FB I</text><text x="82" y="2280">FB IV</text><text x="366" y="2330">FB II</text><text x="94" y="2403">EPI II</text><text x="314" y="2422">EPI III</text><text x="203" y="2466">FB III</text>
</g>

<!-- Fgf restored -->
<g fill="none" stroke-opacity="0.65" stroke-linecap="round">
<ellipse cx="744" cy="2208" rx="9" ry="18" transform="rotate(20 744 2208)" stroke="#377eb8" stroke-width="7"/>
<ellipse cx="800" cy="2326" rx="20" ry="9" stroke="#e41a1c" stroke-width="3"/>
<path d="M728,2229 Q670,2235 622,2205" stroke="#377eb8" stroke-width="12"/>
<path d="M777,2326 Q690,2275 622,2205" stroke="#e41a1c" stroke-width="10"/>
<path d="M728,2229 Q770,2260 777,2326" stroke="#377eb8" stroke-width="8"/>
<path d="M777,2326 Q740,2280 728,2229" stroke="#e41a1c" stroke-width="5"/>
<path d="M728,2229 Q710,2330 728,2423" stroke="#377eb8" stroke-width="8"/>
<path d="M728,2229 Q660,2340 622,2447" stroke="#377eb8" stroke-width="8"/>
<path d="M777,2326 Q720,2420 622,2447" stroke="#e41a1c" stroke-width="6"/>
<path d="M777,2326 Q760,2390 728,2423" stroke="#e41a1c" stroke-width="5"/>
<path d="M728,2229 Q630,2300 536,2380" stroke="#377eb8" stroke-width="1.5"/>
<path d="M777,2326 Q660,2340 536,2380" stroke="#e41a1c" stroke-width="1.5"/>
</g>
<g><circle cx="622" cy="2205" r="6" fill="#4daf4a"/><circle cx="728" cy="2229" r="6" fill="#377eb8"/><path d="M530,2264 L544,2271 L532,2280 Z" fill="#984ea3"/><circle cx="777" cy="2326" r="6" fill="#e41a1c"/><circle cx="536" cy="2380" r="6" fill="#f29111"/><circle cx="728" cy="2423" r="5" fill="#bfa3d9"/><circle cx="622" cy="2447" r="6" fill="#f781bf"/></g>
<g font-size="25" fill="#222">
<text x="578" y="2191">EPI I</text><text x="719" y="2216">FB I</text><text x="476" y="2282">FB IV</text><text x="776" y="2336">FB II</text><text x="489" y="2413">EPI II</text><text x="719" y="2431">EPI III</text><text x="602" y="2480">FB III</text>
</g>

<!-- ================= PANEL D ================= -->
<text x="874" y="1755" font-size="58" font-weight="bold">d</text>
<rect x="932" y="1719" width="888" height="777" fill="none" stroke="#4a6cb0" stroke-width="2.5"/>
<text transform="translate(925,2128) rotate(-90)" text-anchor="middle" font-size="36" textLength="643" lengthAdjust="spacingAndGlyphs">Schematic summary of CMU formation</text>

<g font-size="34" font-weight="bold" fill="#111">
<text x="976" y="1755" textLength="125" lengthAdjust="spacingAndGlyphs">Cellular</text>
<text x="986" y="1797" textLength="107" lengthAdjust="spacingAndGlyphs">events</text>
<text x="1244" y="1758" textLength="162" lengthAdjust="spacingAndGlyphs">Molecular</text>
<text x="1270" y="1800" textLength="108" lengthAdjust="spacingAndGlyphs">events</text>
<text x="1494" y="1752" textLength="289" lengthAdjust="spacingAndGlyphs">Tissue patterning</text>
<text x="1582" y="1795" textLength="109" lengthAdjust="spacingAndGlyphs">events</text>
</g>

<g font-size="31" fill="#111">
<text x="1533" y="1857" textLength="233" lengthAdjust="spacingAndGlyphs">Dissociated cells</text>
<text x="1489" y="1962" textLength="303" lengthAdjust="spacingAndGlyphs">Epidermal aggregates</text>
<text x="1553" y="2076" fill="#ff3d8b" textLength="187" lengthAdjust="spacingAndGlyphs">BM formation</text>
<text x="1454" y="2110" fill="#e2894f" textLength="345" lengthAdjust="spacingAndGlyphs">Polarized epidermal cells</text>
<text x="1459" y="2155" fill="#3f6fe6" textLength="321" lengthAdjust="spacingAndGlyphs">Dermal cell attachment</text>
<text x="1564" y="2255" textLength="152" lengthAdjust="spacingAndGlyphs">Competent</text>
<text x="1532" y="2291" textLength="213" lengthAdjust="spacingAndGlyphs">morphogenesis</text>
<text x="1608" y="2331" textLength="64" lengthAdjust="spacingAndGlyphs">units</text>
<text x="1547" y="2428" textLength="193" lengthAdjust="spacingAndGlyphs">Hair formation</text>
<text x="1264" y="1913" textLength="128" lengthAdjust="spacingAndGlyphs">Adhesion</text>
<text x="1287" y="2050" fill="#f23c86" textLength="64" lengthAdjust="spacingAndGlyphs">Tgfβ</text>
<text x="1287" y="2124" fill="#e08850" textLength="67" lengthAdjust="spacingAndGlyphs">IFNγ</text>
<text x="1290" y="2197" fill="#3f6fe0" textLength="63" lengthAdjust="spacingAndGlyphs">Vegf</text>
</g>
<!-- right column arrows -->
<g stroke="#111" stroke-width="2.5">
<line x1="1640" y1="1867" x2="1640" y2="1905"/><line x1="1640" y1="1989" x2="1640" y2="2026"/><line x1="1640" y1="2168" x2="1640" y2="2207"/><line x1="1640" y1="2345" x2="1640" y2="2382"/>
</g>
<g fill="#111"><path d="M1632,1903 L1648,1903 L1640,1921Z"/><path d="M1632,2024 L1648,2024 L1640,2042Z"/><path d="M1632,2205 L1648,2205 L1640,2223Z"/><path d="M1632,2380 L1648,2380 L1640,2398Z"/></g>

<!-- cell column arrows -->
<g fill="#111">
<rect x="1049.5" y="1900" width="5" height="14"/><path d="M1044,1913 L1060,1913 L1052,1926Z"/>
<rect x="1049.5" y="2026" width="5" height="13"/><path d="M1044,2038 L1060,2038 L1052,2051Z"/>
<rect x="1049.5" y="2169" width="5" height="14"/><path d="M1044,2182 L1060,2182 L1052,2195Z"/>
<rect x="1049.5" y="2358" width="5" height="14"/><path d="M1044,2371 L1060,2371 L1052,2384Z"/>
</g>
<text x="1067" y="2370" font-size="30" textLength="68" lengthAdjust="spacingAndGlyphs">Graft</text>

<!-- dissociated cells -->
<g fill="#e8955f">
<ellipse cx="1002" cy="1828" rx="5" ry="9" transform="rotate(35 1002 1828)"/>
<ellipse cx="1036" cy="1831" rx="5" ry="9" transform="rotate(-30 1036 1831)"/>
<ellipse cx="1047" cy="1810" rx="5" ry="9" transform="rotate(-25 1047 1810)"/>
<ellipse cx="1076" cy="1828" rx="5" ry="9" transform="rotate(-30 1076 1828)"/>
<ellipse cx="1089" cy="1847" rx="5" ry="9" transform="rotate(-15 1089 1847)"/>
<ellipse cx="1046" cy="1848" rx="9" ry="4.5" transform="rotate(-10 1046 1848)"/>
<ellipse cx="1023" cy="1867" rx="5" ry="9" transform="rotate(30 1023 1867)"/>
<ellipse cx="1063" cy="1870" rx="5" ry="9" transform="rotate(-35 1063 1870)"/>
<ellipse cx="1085" cy="1870" rx="5" ry="9" transform="rotate(25 1085 1870)"/>
</g>
<g fill="#a9c7f2">
<ellipse cx="1017" cy="1826" rx="5.5" ry="9" transform="rotate(20 1017 1826)"/>
<ellipse cx="1073" cy="1810" rx="6" ry="9" transform="rotate(-40 1073 1810)"/>
<ellipse cx="1062" cy="1826" rx="5.5" ry="9" transform="rotate(-30 1062 1826)"/>
<ellipse cx="1012" cy="1853" rx="5.5" ry="9" transform="rotate(-30 1012 1853)"/>
<ellipse cx="1073" cy="1849" rx="5.5" ry="9" transform="rotate(30 1073 1849)"/>
<ellipse cx="1045" cy="1865" rx="5.5" ry="9" transform="rotate(30 1045 1865)"/>
<ellipse cx="1033" cy="1883" rx="9" ry="5"/>
<ellipse cx="1065" cy="1886" rx="9" ry="5" transform="rotate(-15 1065 1886)"/>
</g>

<!-- aggregate -->
<g fill="#a9c7f2">
<ellipse cx="1005" cy="1918" rx="6" ry="10"/><ellipse cx="1037" cy="1934" rx="12" ry="5"/><ellipse cx="1087" cy="1938" rx="6" ry="10"/>
<ellipse cx="982" cy="1968" rx="6" ry="10" transform="rotate(30 982 1968)"/><ellipse cx="1002" cy="1954" rx="5" ry="9"/><ellipse cx="1070" cy="1954" rx="5" ry="9" transform="rotate(-20 1070 1954)"/>
<ellipse cx="992" cy="1989" rx="11" ry="6" transform="rotate(20 992 1989)"/><ellipse cx="1093" cy="1991" rx="7" ry="10" transform="rotate(30 1093 1991)"/>
<ellipse cx="1017" cy="2016" rx="12" ry="6"/><ellipse cx="1065" cy="2014" rx="11" ry="5"/>
</g>
<g fill="none" stroke="#d98ad0" stroke-width="1"><path d="M1000,1925 q6,-6 12,0 t12,-4 t10,2"/><path d="M1070,1975 q4,8 -2,14 t2,14"/><path d="M1068,1990 q8,-2 14,4"/></g>
<g fill="#e8955f" stroke="#cf7a45" stroke-width="0.8">
<ellipse cx="1035" cy="1980" rx="8" ry="6"/><ellipse cx="1020" cy="1972" rx="8" ry="6" transform="rotate(40 1020 1972)"/><ellipse cx="1050" cy="1970" rx="8" ry="6" transform="rotate(-40 1050 1970)"/>
<ellipse cx="1035" cy="1958" rx="9" ry="5"/><ellipse cx="1018" cy="1990" rx="8" ry="6" transform="rotate(-30 1018 1990)"/><ellipse cx="1052" cy="1990" rx="8" ry="6" transform="rotate(30 1052 1990)"/>
<ellipse cx="1035" cy="2002" rx="9" ry="5"/><ellipse cx="1010" cy="1958" rx="7" ry="5" transform="rotate(40 1010 1958)"/><ellipse cx="1060" cy="1956" rx="7" ry="5" transform="rotate(-40 1060 1956)"/>
<ellipse cx="1006" cy="1980" rx="5" ry="8"/><ellipse cx="1064" cy="1980" rx="5" ry="8"/><ellipse cx="1020" cy="2006" rx="8" ry="5" transform="rotate(20 1020 2006)"/><ellipse cx="1050" cy="2006" rx="8" ry="5" transform="rotate(-20 1050 2006)"/>
</g>

<!-- CMU -->
<g transform="translate(1044,2111)">
<g fill="#a9c7f2">
<ellipse cx="0" cy="-52" rx="13" ry="6"/><ellipse cx="36" cy="-38" rx="12" ry="7" transform="rotate(45 36 -38)"/><ellipse cx="54" cy="-4" rx="7" ry="12"/><ellipse cx="40" cy="34" rx="12" ry="7" transform="rotate(-45 40 34)"/>
<ellipse cx="0" cy="52" rx="13" ry="6"/><ellipse cx="-38" cy="36" rx="12" ry="7" transform="rotate(45 -38 36)"/><ellipse cx="-56" cy="0" rx="7" ry="12"/><ellipse cx="-38" cy="-38" rx="12" ry="7" transform="rotate(-45 -38 -38)"/>
</g>
<circle r="47" fill="none" stroke="#3f6fd8" stroke-width="5" stroke-dasharray="14 6"/>
<circle r="42" fill="none" stroke="#f06292" stroke-width="3"/>
<circle r="39" fill="#f2b98e" stroke="#e0905a" stroke-width="1"/>
<circle r="26" fill="#f5d2b4"/>
<g fill="#c8703a"><circle cx="0" cy="-31" r="3.5"/><circle cx="22" cy="-22" r="3.5"/><circle cx="31" cy="0" r="3.5"/><circle cx="22" cy="22" r="3.5"/><circle cx="0" cy="31" r="3.5"/><circle cx="-22" cy="22" r="3.5"/><circle cx="-31" cy="0" r="3.5"/><circle cx="-22" cy="-22" r="3.5"/></g>
<circle r="13" fill="#e8e6e4"/>
</g>
<g stroke="#333" stroke-width="1.3"><line x1="1077" y1="2078" x2="1277" y2="2042"/><line x1="1077" y1="2111" x2="1275" y2="2108"/><line x1="1077" y1="2153" x2="1275" y2="2186"/></g>

<!-- big ball -->
<g transform="translate(1048,2271)">
<g fill="#a9c7f2">
<ellipse cx="0" cy="-63" rx="14" ry="8"/><ellipse cx="30" cy="-57" rx="13" ry="8" transform="rotate(25 30 -57)"/><ellipse cx="53" cy="-38" rx="13" ry="8" transform="rotate(50 53 -38)"/><ellipse cx="66" cy="-8" rx="8" ry="13"/><ellipse cx="62" cy="24" rx="8" ry="13" transform="rotate(-20 62 24)"/><ellipse cx="46" cy="50" rx="13" ry="8" transform="rotate(-45 46 50)"/><ellipse cx="18" cy="64" rx="13" ry="8" transform="rotate(-15 18 64)"/>
<ellipse cx="-14" cy="65" rx="13" ry="8" transform="rotate(15 -14 65)"/><ellipse cx="-44" cy="52" rx="13" ry="8" transform="rotate(45 -44 52)"/><ellipse cx="-63" cy="26" rx="8" ry="13" transform="rotate(20 -63 26)"/><ellipse cx="-67" cy="-6" rx="8" ry="13"/><ellipse cx="-55" cy="-36" rx="13" ry="8" transform="rotate(-50 -55 -36)"/><ellipse cx="-30" cy="-58" rx="13" ry="8" transform="rotate(-25 -30 -58)"/>
</g>
<g fill="none" stroke="#d98ad0" stroke-width="1"><path d="M-60,-50 q10,-8 20,-2 t18,-6"/><path d="M40,-60 q10,4 18,14 t10,12"/><path d="M-66,40 q8,10 18,12 t16,10"/><path d="M30,62 q12,-4 20,-14"/></g>
<circle r="52" fill="none" stroke="#3f6fd8" stroke-width="6" stroke-dasharray="16 6"/>
<circle r="47" fill="none" stroke="#f06292" stroke-width="3"/>
<circle r="44" fill="#f2b98e" stroke="#e0905a" stroke-width="1"/>
<circle r="29" fill="#f5d2b4"/>
<g fill="#c8703a"><circle cx="0" cy="-36" r="4"/><circle cx="25" cy="-25" r="4"/><circle cx="36" cy="0" r="4"/><circle cx="25" cy="25" r="4"/><circle cx="0" cy="36" r="4"/><circle cx="-25" cy="25" r="4"/><circle cx="-36" cy="0" r="4"/><circle cx="-25" cy="-25" r="4"/></g>
<circle r="14" fill="#e8e6e4"/>
</g>

<!-- skin -->
<rect x="959" y="2402" width="174" height="19" fill="#f9e4e1"/>
<rect x="959" y="2421" width="174" height="16" fill="#f2c292"/>
<rect x="959" y="2437" width="174" height="3" fill="#f4a0b4"/>
<rect x="959" y="2440" width="174" height="51" fill="#b3d0f6"/>
<g fill="none" stroke="#8b5524" stroke-width="4" stroke-linecap="round">
<path d="M1040,2372 Q1005,2405 998,2458"/><path d="M1083,2372 Q1048,2405 1040,2458"/><path d="M1127,2372 Q1092,2405 1084,2458"/>
</g>
<g fill="#8b5524"><ellipse cx="998" cy="2460" rx="5" ry="8"/><ellipse cx="1040" cy="2460" rx="5" ry="8"/><ellipse cx="1084" cy="2460" rx="5" ry="8"/></g>
<g fill="#2a5cc8"><circle cx="998" cy="2466" r="2.5"/><circle cx="1040" cy="2466" r="2.5"/><circle cx="1084" cy="2466" r="2.5"/></g>

<!-- legend -->
<ellipse cx="1171" cy="2451" rx="11" ry="6" fill="#e8a070"/>
<path d="M1163,2464 L1179,2464 L1184,2482 L1158,2482 Z" fill="#e8a070"/>
<ellipse cx="1171" cy="2475" rx="4" ry="3" fill="#c86a3a"/>
<text x="1189" y="2477" font-size="30" textLength="139" lengthAdjust="spacingAndGlyphs">Epidermal</text>
<ellipse cx="1358" cy="2458" rx="8" ry="11" fill="#a9c7f2"/>
<path d="M1348,2484 Q1358,2468 1368,2484" fill="none" stroke="#a9c7f2" stroke-width="4"/>
<text x="1383" y="2477" font-size="30" textLength="99" lengthAdjust="spacingAndGlyphs">Dermal</text>
<rect x="1515" y="2462" width="42" height="6" fill="#e8407a"/>
<path d="M1515,2465 q10,-5 21,0 t21,0" fill="none" stroke="#b0204e" stroke-width="1"/>
<text x="1558" y="2477" font-size="30" textLength="44" lengthAdjust="spacingAndGlyphs">BM</text>
<g fill="none" stroke="#d070d0" stroke-width="1.2"><path d="M1645,2468 q10,-6 22,0 t21,-2"/><path d="M1650,2456 l3,8 M1660,2455 l-2,9 M1670,2456 l3,7 M1680,2457 l-2,8 M1652,2472 l3,7 M1664,2473 l-2,8 M1676,2472 l3,7"/></g>
<text x="1697" y="2477" font-size="30" textLength="65" lengthAdjust="spacingAndGlyphs">ECM</text>

</svg>
</body></html>
